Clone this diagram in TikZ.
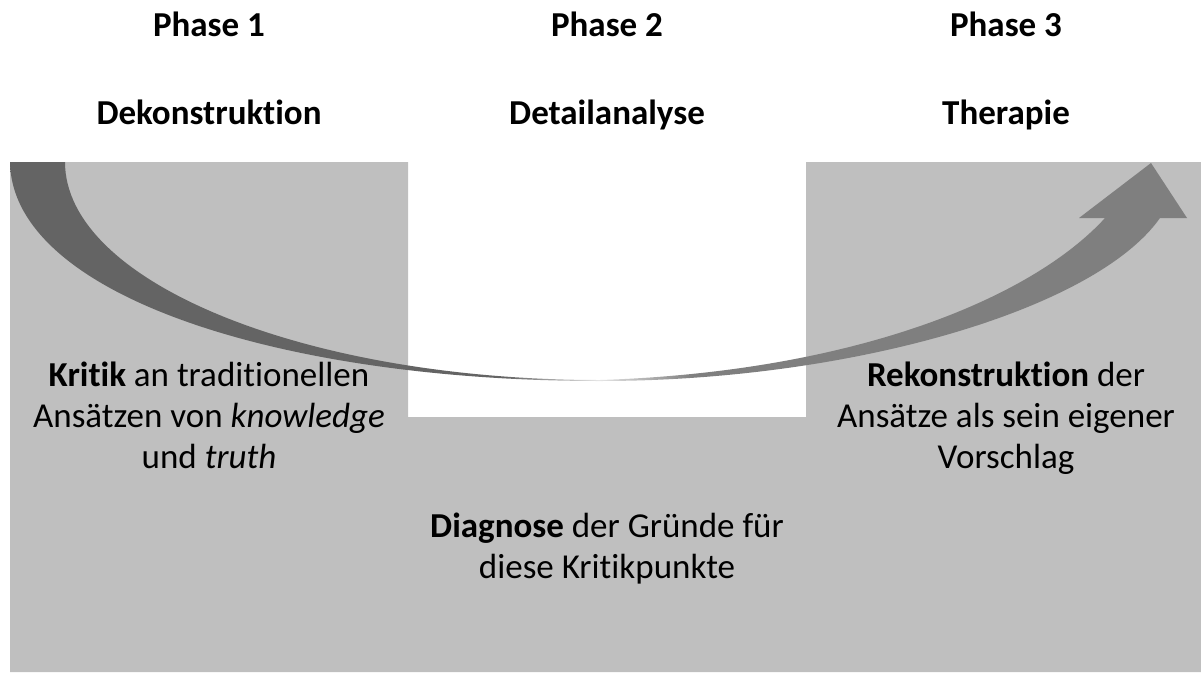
\documentclass[tikz,border=0pt]{standalone}
\usepackage{fontspec}
\setmainfont[Ligatures=NoCommon]{Carlito}
\definecolor{panelgray}{HTML}{BFBFBF}
\definecolor{arrowdark}{HTML}{646464}
\definecolor{arrowmid}{HTML}{E6E6E6}
\definecolor{arrowlight}{HTML}{7F7F7F}
\pgfdeclarehorizontalshading{arrowshade}{100bp}{color(0bp)=(arrowdark); color(46bp)=(arrowdark); color(50bp)=(arrowmid); color(54bp)=(arrowlight); color(100bp)=(arrowlight)}
\begin{document}
\begin{tikzpicture}[x=1pt,y=-1pt,
  phasetitle/.style={font=\fontsize{35}{41}\selectfont\bfseries, inner sep=0pt, anchor=base},
  bodytext/.style={font=\fontsize{35}{41}\selectfont, align=center, inner sep=0pt, anchor=base}]
\useasboundingbox (0,0) rectangle (1201,672);
% gray panel with white notch
\fill[panelgray] (10,162) -- (408,162) -- (408,417) -- (806,417) -- (806,162) -- (1201,162) -- (1201,672) -- (10,672) -- cycle;
% curved tapered arrow
\shade[shading=arrowshade]
  (10,162) .. controls (12,295) and (280,381) .. (600,381)
  .. controls (850,381) and (1095,310) .. (1160,218)
  -- (1187,218) -- (1151,163) -- (1079,218) -- (1105,218)
  .. controls (1030,300) and (850,372) .. (600,380)
  .. controls (305,380) and (65,282) .. (65,162) -- cycle;
% titles
\node[phasetitle] (p1) at (209,36) {Phase 1};
\node[phasetitle] (p2) at (607,36) {Phase 2};
\node[phasetitle] (p3) at (1006,36) {Phase 3};
\node[phasetitle] (t1) at (209,124) {Dekonstruktion};
\node[phasetitle] (t2) at (607,124) {Detailanalyse};
\node[phasetitle] (t3) at (1006,124) {Therapie};
% body texts (base anchor = baseline of the last line)
\node[bodytext] (b1) at (209,468) {\textbf{Kritik} an traditionellen\\Ansätzen von \textit{knowledge}\\und \textit{truth}};
\node[bodytext] (b3) at (1006,468) {\textbf{Rekonstruktion} der\\Ansätze als sein eigener\\Vorschlag};
\node[bodytext] (b2) at (607,578) {\textbf{Diagnose} der Gründe für\\diese Kritikpunkte};
\end{tikzpicture}
\end{document}
